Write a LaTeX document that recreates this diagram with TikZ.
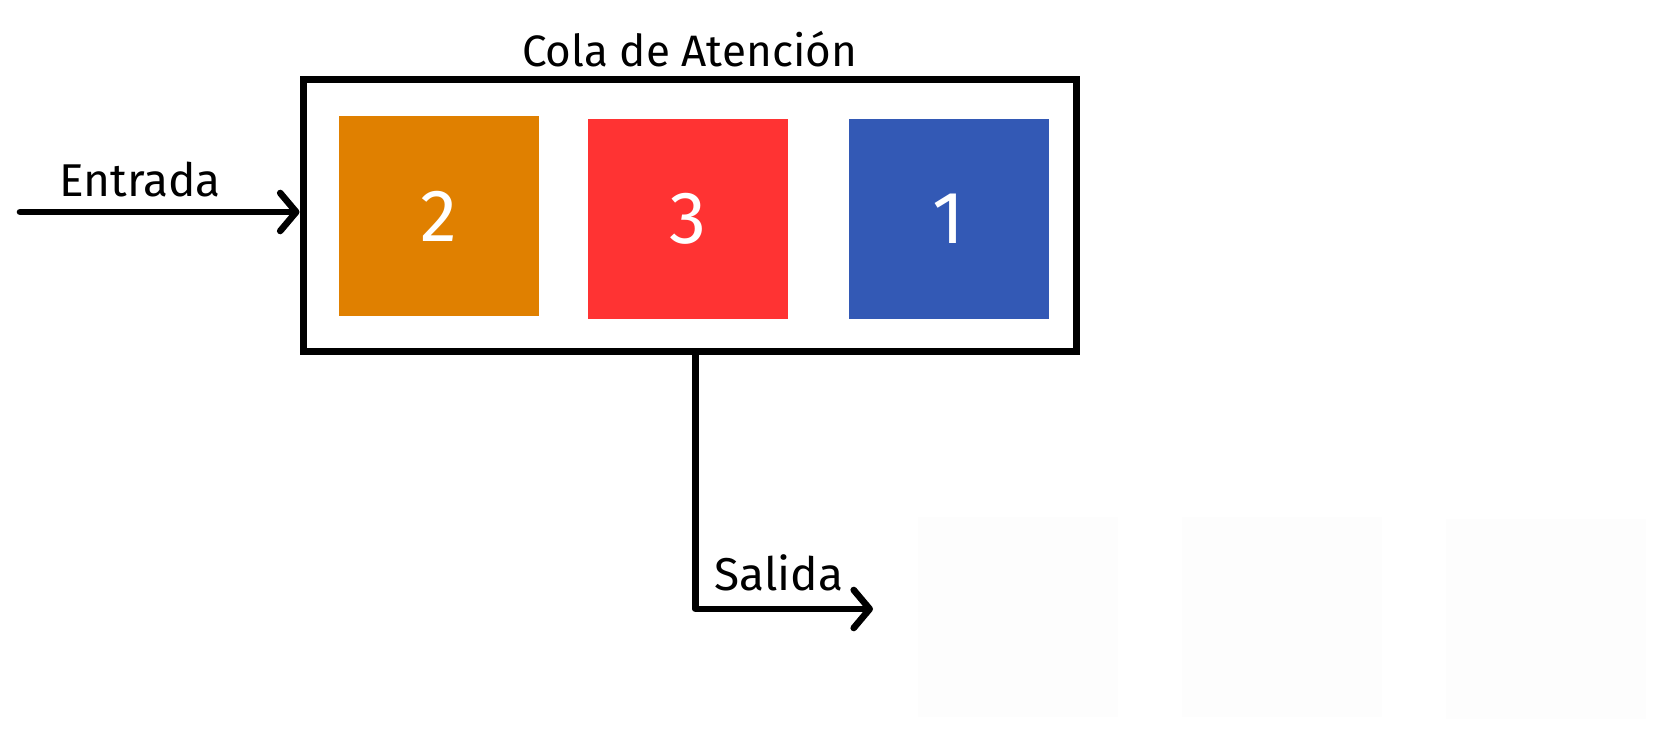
\documentclass[tikz,border=0pt]{standalone}
\usepackage{fontspec}
\setmainfont{Fira Sans}
\usetikzlibrary{arrows.meta,positioning}

\definecolor{naranja}{RGB}{224,128,0}
\definecolor{rojo}{RGB}{255,51,51}
\definecolor{azul}{RGB}{51,89,181}
\definecolor{casiblanco}{RGB}{253,253,253}

\tikzset{
  cliente/.style={minimum width=100pt,minimum height=100pt,inner sep=0pt,
    text=white,font=\fontsize{37}{44}\selectfont},
  flecha/.style={line width=3.3pt,line cap=round,line join=round,
    -{Straight Barb[length=8pt,width=19pt,round]}},
  rotulo/.style={font=\fontsize{23}{27}\selectfont}
}

\begin{document}
\begin{tikzpicture}[x=0.5pt,y=-0.5pt]
\useasboundingbox (0,0) rectangle (1677,747);
% cola
\node[draw,line width=3.5pt,minimum width=386.5pt,minimum height=136pt,inner sep=0pt] (cola) at (689.5,216) {};
\node[rotulo,font=\fontsize{22}{26}\selectfont,above=1pt of cola] (titulo) {Cola de Atención};
\node[cliente,fill=naranja] (c2) at (439,216) {2};
\node[cliente,fill=rojo] (c3) at (688,219) {3};
\node[cliente,fill=azul] (c1) at (949,219) {1};
% restos casi invisibles
\node[cliente,fill=casiblanco] (g1) at (1018,617) {};
\node[cliente,fill=casiblanco] (g2) at (1282,617) {};
\node[cliente,fill=casiblanco] (g3) at (1546,619) {};
% entrada
\coordinate (inicio) at (20,212);
\draw[flecha] (inicio) -- (inicio -| cola.west);
\node[rotulo] (entrada) at (140,180) {Entrada};
% salida
\coordinate (fin) at (873,609);
\draw[flecha] ([xshift=3pt]cola.south) |- (fin);
\node[rotulo] (salida) at (779,573) {Salida};
\end{tikzpicture}
\end{document}
